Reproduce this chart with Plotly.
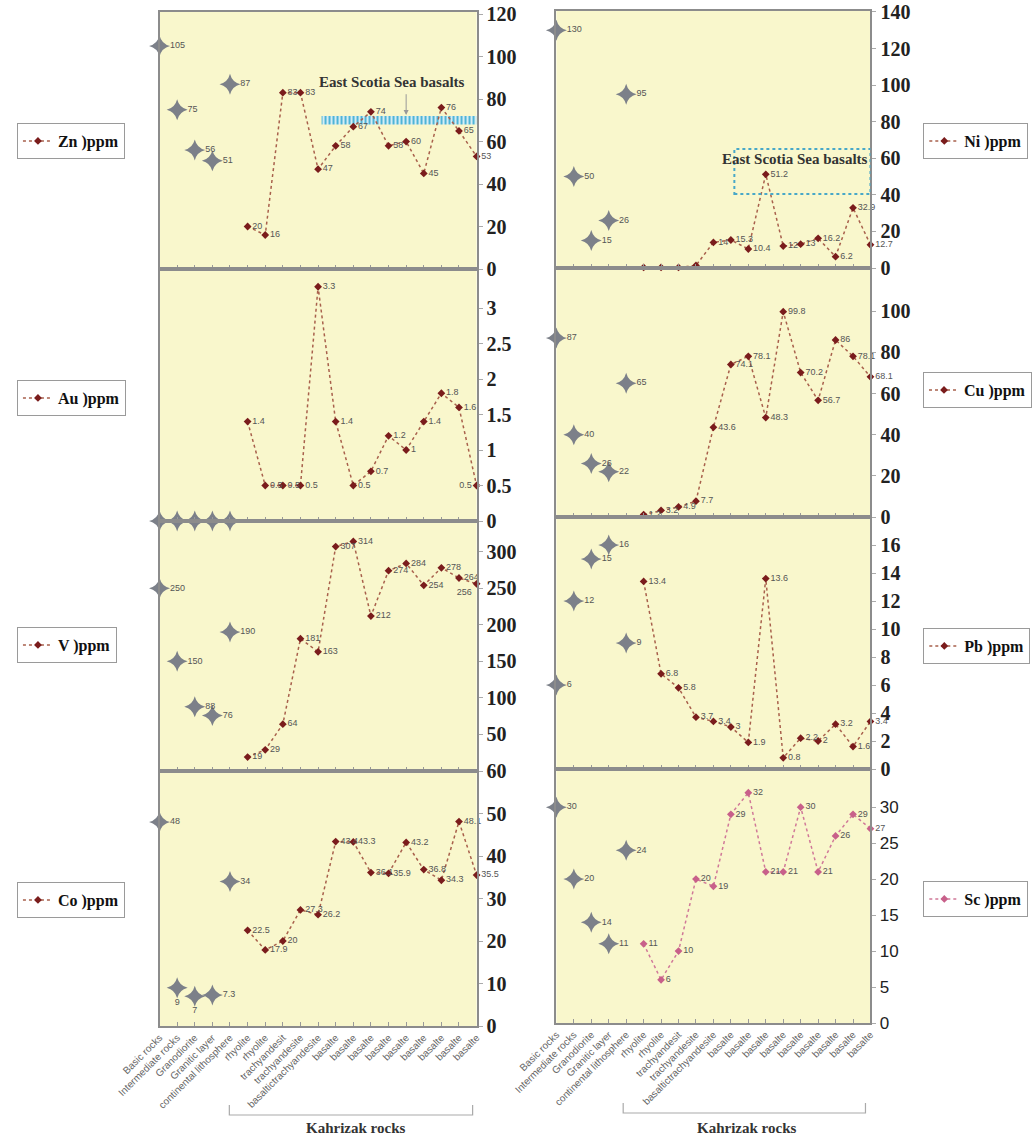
import plotly.graph_objects as go

W, H = 1032, 1137

categories = ["Basic rocks", "Intermediate rocks", "Granodiorite", "Granitic layer",
              "continental lithosphere", "rhyolite", "rhyolite", "trachyandesit",
              "trachyandesite", "basaltictrachyandesite", "basalte", "basalte", "basalte",
              "basalte", "basalte", "basalte", "basalte", "basalte", "basalte"]

# reference rocks (first five categories) and Kahrizak rocks (remaining fourteen)
zn_ref = [105, 75, 56, 51, 87]
zn_kah = [20, 16, 83, 83, 47, 58, 67, 74, 58, 60, 45, 76, 65, 53]
au_ref = [0, 0, 0, 0, 0]
au_kah = [1.4, 0.5, 0.5, 0.5, 3.3, 1.4, 0.5, 0.7, 1.2, 1, 1.4, 1.8, 1.6, 0.5]
v_ref = [250, 150, 88, 76, 190]
v_kah = [19, 29, 64, 181, 163, 307, 314, 212, 274, 284, 254, 278, 264, 256]
co_ref = [48, 9, 7, 7.3, 34]
co_kah = [22.5, 17.9, 20, 27.3, 26.2, 43.4, 43.3, 36.1, 35.9, 43.2, 36.8, 34.3, 48.1, 35.5]
ni_ref = [130, 50, 15, 26, 95]
ni_kah = [0.3, 0.3, 0.3, 1.4, 14, 15.3, 10.4, 51.2, 12, 13, 16.2, 6.2, 32.9, 12.7]
cu_ref = [87, 40, 26, 22, 65]
cu_kah = [1.2, 3.2, 4.9, 7.7, 43.6, 74.1, 78.1, 48.3, 99.8, 70.2, 56.7, 86, 78.1, 68.1]
pb_ref = [6, 12, 15, 16, 9]
pb_kah = [13.4, 6.8, 5.8, 3.7, 3.4, 3, 1.9, 13.6, 0.8, 2.2, 2, 3.2, 1.6, 3.4]
sc_ref = [30, 20, 14, 11, 24]
sc_kah = [11, 6, 10, 20, 19, 29, 32, 21, 21, 30, 21, 26, 29, 27]

n_ref = len(zn_ref)
ref_x = list(range(n_ref))
kah_x = list(range(n_ref, len(categories)))

def fmt(v):
    return f"{v:g}"

DARK = "#7a1c1c"
LINE = "#a8604c"
PINK = "#c8608a"
PINKLINE = "#d07898"
STAR = "#7c8089"

panels = [
    dict(name="Zn", ref=zn_ref, kah=zn_kah, yr=[0, 121], tv=[0, 20, 40, 60, 80, 100, 120], col=0, row=0),
    dict(name="Au", ref=au_ref, kah=au_kah, yr=[0, 3.55], tv=[0, 0.5, 1, 1.5, 2, 2.5, 3], col=0, row=1,
         kpos={13: "middle left"}, refnolabel=True),
    dict(name="V", ref=v_ref, kah=v_kah, yr=[0, 342], tv=[50, 100, 150, 200, 250, 300], col=0, row=2,
         kpos={13: "bottom left"}),
    dict(name="Co", ref=co_ref, kah=co_kah, yr=[0, 60], tv=[0, 10, 20, 30, 40, 50, 60], col=0, row=3,
         rpos={1: "bottom center", 2: "bottom center"}),
    dict(name="Ni", ref=ni_ref, kah=ni_kah, yr=[0, 140.5], tv=[0, 20, 40, 60, 80, 100, 120, 140], col=1, row=0,
         knolabel=[0, 1, 2, 3]),
    dict(name="Cu", ref=cu_ref, kah=cu_kah, yr=[0, 121], tv=[0, 20, 40, 60, 80, 100], col=1, row=1),
    dict(name="Pb", ref=pb_ref, kah=pb_kah, yr=[0, 18], tv=[0, 2, 4, 6, 8, 10, 12, 14, 16], col=1, row=2),
    dict(name="Sc", ref=sc_ref, kah=sc_kah, yr=[0, 35.3], tv=[0, 5, 10, 15, 20, 25, 30], col=1, row=3,
         pink=True, sans=True),
]

col_x = [(160, 478), (558, 873)]
row_y = [[(12, 269), (269, 521), (521, 771), (771, 1026)],
         [(11, 268), (268, 517), (517, 769), (769, 1023)]]
legend_pos = [[(17, 141), (17, 398), (17, 645), (17, 900)],
              [(926, 141), (926, 390), (926, 646), (926, 899)]]

fig = go.Figure()
layout = dict(template="none", width=W, height=H, margin=dict(l=0, r=0, t=0, b=0, pad=0),
              autosize=False, paper_bgcolor="white", plot_bgcolor="#f9f7cc", showlegend=True)

for i, p in enumerate(panels, start=1):
    sfx = "" if i == 1 else str(i)
    xa, ya = "x" + sfx, "y" + sfx
    lg = "legend" + sfx
    x0, x1 = col_x[p["col"]]
    top, bot = row_y[p["col"]][p["row"]]
    bottom_row = p["row"] == 3
    layout["xaxis" + sfx] = dict(
        domain=[x0 / W, x1 / W], anchor=ya, range=[0, len(categories) - 1],
        tickvals=list(range(len(categories))), ticktext=categories,
        showticklabels=bottom_row, tickangle=-45, automargin=False,
        tickfont=dict(family="Liberation Sans", size=10, color="#666"),
        ticks="inside", ticklen=4, tickcolor="#999",
        showline=True, mirror=True, linecolor="#8c8c8c", linewidth=2,
        showgrid=False, zeroline=False)
    tf = dict(family="Liberation Serif", size=20, color="#222", weight="bold")
    if p.get("sans"):
        tf = dict(family="Liberation Sans", size=17, color="#222")
    layout["yaxis" + sfx] = dict(
        domain=[1 - bot / H, 1 - top / H], anchor=xa, side="right", range=p["yr"],
        tickvals=p["tv"], tickfont=tf, ticks="outside", ticklen=4, tickcolor="#aaa",
        automargin=False,
        showline=True, mirror=True, linecolor="#8c8c8c", linewidth=2,
        showgrid=False, zeroline=False)
    lx, ly = legend_pos[p["col"]][p["row"]]
    layout[lg] = dict(x=lx / W, y=1 - ly / H, xanchor="left", yanchor="middle",
                      bgcolor="white", bordercolor="#9a9a9a", borderwidth=1,
                      font=dict(family="Liberation Serif", size=16, color="#111", weight="bold"),
                      itemwidth=30, tracegroupgap=0)

    rpos = ["middle right"] * len(p["ref"])
    for k, v in p.get("rpos", {}).items():
        rpos[k] = v
    rtext = ["" if p.get("refnolabel") else fmt(v) for v in p["ref"]]
    fig.add_trace(go.Scatter(
        x=ref_x, y=p["ref"], xaxis=xa, yaxis=ya, mode="markers+text",
        marker=dict(symbol="star-diamond", size=15, color=STAR),
        text=rtext, textposition=rpos,
        textfont=dict(family="Liberation Sans", size=9, color="#555"),
        cliponaxis=False, showlegend=False, hoverinfo="skip"))

    kpos = ["middle right"] * len(p["kah"])
    for k, v in p.get("kpos", {}).items():
        kpos[k] = v
    ktext = [fmt(v) for v in p["kah"]]
    for k in p.get("knolabel", []):
        ktext[k] = ""
    mc = PINK if p.get("pink") else DARK
    lc = PINKLINE if p.get("pink") else LINE
    fig.add_trace(go.Scatter(
        x=kah_x, y=p["kah"], xaxis=xa, yaxis=ya, mode="lines+markers+text",
        name=p["name"] + " )ppm", legend=lg,
        line=dict(color=lc, width=1.5, dash="dot"),
        marker=dict(symbol="diamond", size=6, color=mc),
        text=ktext, textposition=kpos,
        textfont=dict(family="Liberation Sans", size=9, color="#555"),
        cliponaxis=False))

# East Scotia Sea basalts band on the Zn panel (hatched)
fig.add_trace(go.Bar(x=[13.6], y=[4], base=[68], width=[8.8], xaxis="x", yaxis="y",
                     marker=dict(color="#ffffff", line=dict(width=0),
                                 pattern=dict(shape="|", fgcolor="#4fb4d6", bgcolor="#e4f4f8",
                                              size=4, solidity=0.55)),
                     showlegend=False, hoverinfo="skip"))

TXT = dict(xref="paper", yref="paper", xanchor="center", yanchor="middle", showarrow=False,
           font=dict(family="Liberation Serif", size=15, color="#333"))
annotations = [
    dict(text="<b>East Scotia Sea basalts</b>", x=393 / W, y=1 - 82 / H, **TXT),
    dict(text="", x=14, y=72.5, xref="x", yref="y", ax=14, ay=83, axref="x", ayref="y",
         showarrow=True, arrowhead=2, arrowsize=1, arrowwidth=1, arrowcolor="#999"),
    dict(text="<b>East Scotia Sea basalts</b>", x=797 / W, y=1 - 159 / H, **TXT),
    dict(text="<b>Kahrizak rocks</b>", x=357 / W, y=1 - 1128 / H, **TXT),
    dict(text="<b>Kahrizak rocks</b>", x=749 / W, y=1 - 1128 / H, **TXT),
]

def bracket(xl, xr, yb, yt):
    return dict(type="path", xref="paper", yref="paper",
                path=f"M {xl / W},{1 - yt / H} L {xl / W},{1 - yb / H} L {xr / W},{1 - yb / H} L {xr / W},{1 - yt / H}",
                line=dict(color="#aaa", width=1.2))

shapes = [
    dict(type="rect", xref="x5", yref="y5", x0=10.2, x1=18, y0=40.5, y1=65,
         line=dict(color="#48a8c8", width=2, dash="dot")),
    bracket(230, 474, 1115, 1105),
    bracket(625, 868, 1113, 1103),
]

layout["annotations"] = annotations
layout["shapes"] = shapes
fig.update_layout(**layout)
fig.write_html("out.html")
